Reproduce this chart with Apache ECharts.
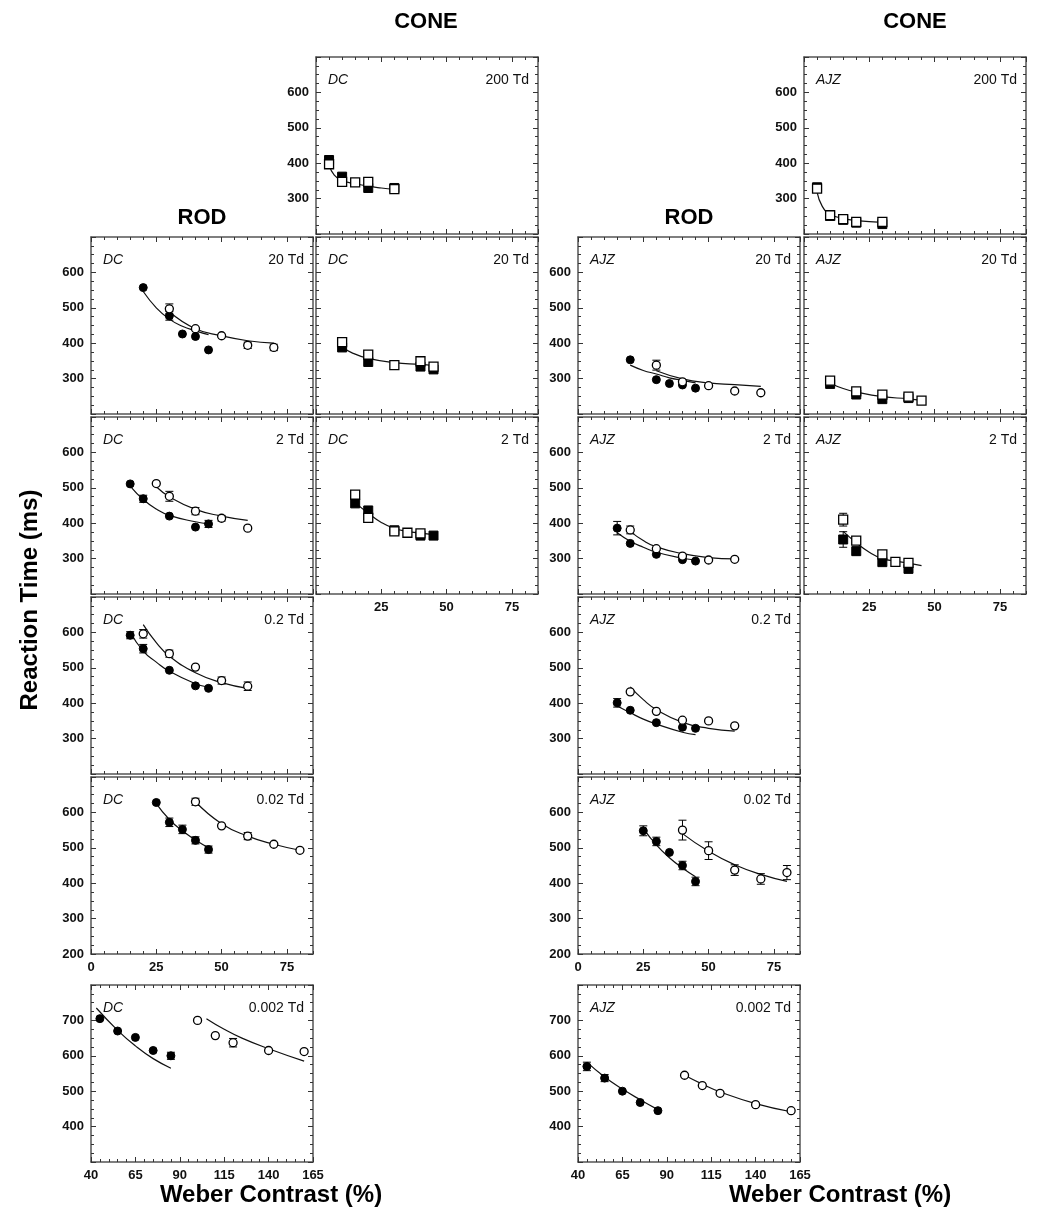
<!DOCTYPE html>
<html>
<head>
<meta charset="utf-8">
<script src="https://cdn.jsdelivr.net/npm/echarts@6/dist/echarts.min.js"></script>
<style>
  html, body { margin: 0; background: #fff; }
  #chart { width: 1050px; height: 1222px; }
</style>
</head>
<body>
<div id="chart"></div>
<script>
// ---- data: [weber contrast %, reaction time ms]; err: [x, y, sem] ----
// DC, cone, 200 Td
const dcCone200Filled = [[5, 409], [10, 362], [20, 330], [30, 330]];
const dcCone200Open = [[5, 397], [10, 347], [15, 346], [20, 347], [30, 327]];
const dcCone200Fit = [[5, 396], [7, 366], [10, 351], [15, 342], [20, 335], [25, 330], [30, 326]];
// AJZ, cone, 200 Td
const ajzCone200Filled = [[5, 332], [10, 251], [15, 240], [20, 232], [30, 228]];
const ajzCone200Open = [[5, 328], [10, 253], [15, 242], [20, 234], [30, 234]];
const ajzCone200Fit = [[5, 318], [7, 278], [10, 256], [15, 244], [20, 238], [30, 233]];

// DC, rod, 20 Td
const dcRod20Filled = [[20, 557], [30, 477], [35, 426], [40, 419], [45, 381]];
const dcRod20FilledErr = [[30, 477, 12]];
const dcRod20Open = [[30, 497], [40, 441], [50, 421], [60, 394], [70, 388]];
const dcRod20OpenErr = [[30, 497, 14], [60, 394, 9], [70, 388, 9]];
const dcRod20FilledFit = [[20, 546], [25, 500], [30, 468], [35, 448], [40, 435], [45, 424]];
const dcRod20OpenFit = [[30, 489], [40, 441], [50, 421], [60, 407], [70, 400]];
// DC, cone, 20 Td
const dcCone20Filled = [[10, 388], [20, 347], [40, 334], [45, 326]];
const dcCone20Open = [[10, 403], [20, 368], [30, 338], [40, 349], [45, 334]];
const dcCone20Fit = [[10, 390], [14, 372], [20, 357], [30, 345], [40, 340], [45, 337]];
// AJZ, rod, 20 Td
const ajzRod20Filled = [[20, 353], [30, 297], [35, 286], [40, 282], [45, 273]];
const ajzRod20Open = [[30, 338], [40, 291], [50, 280], [60, 265], [70, 260]];
const ajzRod20OpenErr = [[30, 338, 14]];
const ajzRod20FilledFit = [[20, 338], [25, 323], [30, 313], [35, 302], [40, 295], [45, 288]];
const ajzRod20OpenFit = [[30, 322], [40, 299], [50, 288], [60, 283], [70, 278]];
// AJZ, cone, 20 Td
const ajzCone20Filled = [[10, 285], [20, 255], [30, 242], [40, 245]];
const ajzCone20Open = [[10, 294], [20, 264], [30, 255], [40, 249], [45, 238]];
const ajzCone20Fit = [[10, 287], [15, 272], [20, 262], [30, 249], [40, 243], [45, 239]];

// DC, rod, 2 Td
const dcRod2Filled = [[15, 511], [20, 469], [30, 420], [40, 389], [45, 398]];
const dcRod2FilledErr = [[20, 469, 10], [45, 398, 10]];
const dcRod2Open = [[25, 512], [30, 476], [40, 434], [50, 414], [60, 386]];
const dcRod2OpenErr = [[30, 476, 14], [40, 434, 10], [50, 414, 8]];
const dcRod2FilledFit = [[15, 505], [20, 467], [25, 440], [30, 422], [40, 404], [45, 398]];
const dcRod2OpenFit = [[25, 503], [30, 475], [40, 439], [50, 420], [60, 408]];
// DC, cone, 2 Td
const dcCone2Filled = [[15, 456], [20, 436], [30, 380], [40, 365], [45, 365]];
const dcCone2Open = [[15, 481], [20, 415], [30, 377], [35, 373], [40, 371]];
const dcCone2Fit = [[15, 458], [20, 428], [25, 402], [30, 385], [35, 377], [40, 372], [45, 368]];
// AJZ, rod, 2 Td
const ajzRod2Filled = [[15, 386], [20, 343], [30, 312], [40, 297], [45, 293]];
const ajzRod2FilledErr = [[15, 386, 19]];
const ajzRod2Open = [[20, 381], [30, 328], [40, 307], [50, 296], [60, 298]];
const ajzRod2OpenErr = [[20, 381, 11]];
const ajzRod2FilledFit = [[15, 373], [20, 349], [25, 332], [30, 318], [40, 301], [45, 296]];
const ajzRod2OpenFit = [[20, 377], [25, 351], [30, 333], [40, 314], [50, 303], [60, 299]];
// AJZ, cone, 2 Td
const ajzCone2Filled = [[15, 354], [20, 321], [30, 290], [40, 271]];
const ajzCone2FilledErr = [[15, 354, 22], [20, 321, 11]];
const ajzCone2Open = [[15, 410], [20, 351], [30, 312], [35, 291], [40, 288]];
const ajzCone2OpenErr = [[15, 410, 18]];
const ajzCone2Fit = [[15, 377], [20, 345], [25, 318], [30, 300], [35, 293], [40, 287], [45, 280]];

// DC, rod, 0.2 Td
const dcRod02Filled = [[15, 592], [20, 554], [30, 493], [40, 449], [45, 442]];
const dcRod02FilledErr = [[15, 592, 10], [20, 554, 12]];
const dcRod02Open = [[20, 596], [30, 540], [40, 502], [50, 464], [60, 448]];
const dcRod02OpenErr = [[20, 596, 12], [30, 540, 10], [50, 464, 10], [60, 448, 12]];
const dcRod02FilledFit = [[15, 601], [20, 547], [25, 516], [30, 490], [40, 455], [45, 445]];
const dcRod02OpenFit = [[20, 622], [25, 571], [30, 533], [40, 486], [50, 458], [60, 442]];
// AJZ, rod, 0.2 Td
const ajzRod02Filled = [[15, 401], [20, 380], [30, 345], [40, 332], [45, 329]];
const ajzRod02FilledErr = [[15, 401, 12]];
const ajzRod02Open = [[20, 432], [30, 377], [40, 352], [50, 350], [60, 336]];
const ajzRod02FilledFit = [[15, 392], [20, 373], [25, 355], [30, 341], [40, 318], [45, 311]];
const ajzRod02OpenFit = [[20, 446], [25, 410], [30, 382], [40, 346], [50, 329], [60, 321]];

// DC, rod, 0.02 Td
const dcRod002Filled = [[25, 628], [30, 572], [35, 552], [40, 521], [45, 495]];
const dcRod002FilledErr = [[30, 572, 12], [35, 552, 12], [40, 521, 10], [45, 495, 10]];
const dcRod002Open = [[40, 630], [50, 562], [60, 533], [70, 510], [80, 493]];
const dcRod002OpenErr = [[40, 630, 10], [60, 533, 10]];
const dcRod002FilledFit = [[25, 625], [30, 580], [35, 548], [40, 522], [45, 500]];
const dcRod002OpenFit = [[40, 630], [50, 568], [60, 533], [70, 510], [80, 493]];
// AJZ, rod, 0.02 Td
const ajzRod002Filled = [[25, 548], [30, 518], [35, 487], [40, 450], [45, 405]];
const ajzRod002FilledErr = [[25, 548, 14], [30, 518, 12], [40, 450, 12], [45, 405, 12]];
const ajzRod002Open = [[40, 550], [50, 492], [60, 437], [70, 412], [80, 430]];
const ajzRod002OpenErr = [[40, 550, 28], [50, 492, 25], [60, 437, 15], [70, 412, 15], [80, 430, 20]];
const ajzRod002FilledFit = [[25, 555], [30, 508], [35, 472], [40, 443], [45, 418]];
const ajzRod002OpenFit = [[40, 540], [50, 490], [60, 452], [70, 425], [80, 405]];

// DC, rod, 0.002 Td
const dcRod0002Filled = [[45, 705], [55, 670], [65, 652], [75, 615], [85, 600]];
const dcRod0002FilledErr = [[85, 600, 10]];
const dcRod0002Open = [[100, 700], [110, 657], [120, 637], [140, 615], [160, 612]];
const dcRod0002OpenErr = [[120, 637, 12]];
const dcRod0002FilledFit = [[43, 735], [55, 672], [65, 628], [75, 592], [85, 565]];
const dcRod0002OpenFit = [[105, 705], [115, 675], [125, 650], [140, 620], [160, 585]];
// AJZ, rod, 0.002 Td
const ajzRod0002Filled = [[45, 570], [55, 537], [65, 500], [75, 468], [85, 445]];
const ajzRod0002FilledErr = [[45, 570, 12], [55, 537, 10]];
const ajzRod0002Open = [[100, 545], [110, 516], [120, 494], [140, 462], [160, 445]];
const ajzRod0002FilledFit = [[45, 582], [55, 540], [65, 506], [75, 476], [85, 448]];
const ajzRod0002OpenFit = [[100, 545], [110, 520], [120, 498], [140, 465], [160, 442]];

// ---- layout ----
const COL = { dcRod: 91, dcCone: 316, ajzRod: 578, ajzCone: 804 };
const ROW = { r200: 57, r20: 237, r2: 417, r02: 597, r002: 777, r0002: 985 };
const W = 222, H = 177;
const FONT = "'Liberation Sans', Arial, Helvetica, sans-serif";

const panels = [
  { who: 'DC', td: '200 Td', left: COL.dcCone, top: ROW.r200, shape: 'rect', yLab: 'std',
    filled: dcCone200Filled, open: dcCone200Open, fits: [dcCone200Fit] },
  { who: 'AJZ', td: '200 Td', left: COL.ajzCone, top: ROW.r200, shape: 'rect', yLab: 'std',
    filled: ajzCone200Filled, open: ajzCone200Open, fits: [ajzCone200Fit] },

  { who: 'DC', td: '20 Td', left: COL.dcRod, top: ROW.r20, shape: 'circle', yLab: 'std',
    filled: dcRod20Filled, open: dcRod20Open, filledErr: dcRod20FilledErr, openErr: dcRod20OpenErr,
    fits: [dcRod20FilledFit, dcRod20OpenFit] },
  { who: 'DC', td: '20 Td', left: COL.dcCone, top: ROW.r20, shape: 'rect',
    filled: dcCone20Filled, open: dcCone20Open, fits: [dcCone20Fit] },
  { who: 'AJZ', td: '20 Td', left: COL.ajzRod, top: ROW.r20, shape: 'circle', yLab: 'std',
    filled: ajzRod20Filled, open: ajzRod20Open, openErr: ajzRod20OpenErr,
    fits: [ajzRod20FilledFit, ajzRod20OpenFit] },
  { who: 'AJZ', td: '20 Td', left: COL.ajzCone, top: ROW.r20, shape: 'rect',
    filled: ajzCone20Filled, open: ajzCone20Open, fits: [ajzCone20Fit] },

  { who: 'DC', td: '2 Td', left: COL.dcRod, top: ROW.r2, shape: 'circle', yLab: 'std',
    filled: dcRod2Filled, open: dcRod2Open, filledErr: dcRod2FilledErr, openErr: dcRod2OpenErr,
    fits: [dcRod2FilledFit, dcRod2OpenFit] },
  { who: 'DC', td: '2 Td', left: COL.dcCone, top: ROW.r2, shape: 'rect', xLab: 'noMin',
    filled: dcCone2Filled, open: dcCone2Open, fits: [dcCone2Fit] },
  { who: 'AJZ', td: '2 Td', left: COL.ajzRod, top: ROW.r2, shape: 'circle', yLab: 'std',
    filled: ajzRod2Filled, open: ajzRod2Open, filledErr: ajzRod2FilledErr, openErr: ajzRod2OpenErr,
    fits: [ajzRod2FilledFit, ajzRod2OpenFit] },
  { who: 'AJZ', td: '2 Td', left: COL.ajzCone, top: ROW.r2, shape: 'rect', xLab: 'noMin',
    filled: ajzCone2Filled, open: ajzCone2Open, filledErr: ajzCone2FilledErr, openErr: ajzCone2OpenErr,
    fits: [ajzCone2Fit] },

  { who: 'DC', td: '0.2 Td', left: COL.dcRod, top: ROW.r02, shape: 'circle', yLab: 'std',
    filled: dcRod02Filled, open: dcRod02Open, filledErr: dcRod02FilledErr, openErr: dcRod02OpenErr,
    fits: [dcRod02FilledFit, dcRod02OpenFit] },
  { who: 'AJZ', td: '0.2 Td', left: COL.ajzRod, top: ROW.r02, shape: 'circle', yLab: 'std',
    filled: ajzRod02Filled, open: ajzRod02Open, filledErr: ajzRod02FilledErr,
    fits: [ajzRod02FilledFit, ajzRod02OpenFit] },

  { who: 'DC', td: '0.02 Td', left: COL.dcRod, top: ROW.r002, shape: 'circle', yLab: 'withMin', xLab: 'all',
    filled: dcRod002Filled, open: dcRod002Open, filledErr: dcRod002FilledErr, openErr: dcRod002OpenErr,
    fits: [dcRod002FilledFit, dcRod002OpenFit] },
  { who: 'AJZ', td: '0.02 Td', left: COL.ajzRod, top: ROW.r002, shape: 'circle', yLab: 'withMin', xLab: 'all',
    filled: ajzRod002Filled, open: ajzRod002Open, filledErr: ajzRod002FilledErr, openErr: ajzRod002OpenErr,
    fits: [ajzRod002FilledFit, ajzRod002OpenFit] },

  { who: 'DC', td: '0.002 Td', left: COL.dcRod, top: ROW.r0002, shape: 'circle', yLab: 'std', xLab: 'all', wide: true,
    filled: dcRod0002Filled, open: dcRod0002Open, filledErr: dcRod0002FilledErr, openErr: dcRod0002OpenErr,
    fits: [dcRod0002FilledFit, dcRod0002OpenFit] },
  { who: 'AJZ', td: '0.002 Td', left: COL.ajzRod, top: ROW.r0002, shape: 'circle', yLab: 'std', xLab: 'all', wide: true,
    filled: ajzRod0002Filled, open: ajzRod0002Open, filledErr: ajzRod0002FilledErr,
    fits: [ajzRod0002FilledFit, ajzRod0002OpenFit] }
];

// axis lines stay on their own edge (no snapping to zero)
const BORDER = { show: true, onZero: false, lineStyle: { color: '#555', width: 1.5 } };
const TICK_STYLE = { color: '#333', width: 1 };
const LABEL = { color: '#111', fontFamily: FONT, fontWeight: 'bold', fontSize: 13 };
const MAJOR = { show: true, inside: true, length: 5, lineStyle: TICK_STYLE };
const MINOR_LEN = 3;

const grids = [], xAxes = [], yAxes = [], series = [], graphics = [];

function errRender(params, api) {
  const x = api.value(0), y = api.value(1), e = api.value(2);
  const lo = api.coord([x, y - e]);
  const hi = api.coord([x, y + e]);
  const c = 4;
  const st = { stroke: '#000', lineWidth: 1 };
  return {
    type: 'group',
    children: [
      { type: 'line', shape: { x1: lo[0], y1: lo[1], x2: hi[0], y2: hi[1] }, style: st },
      { type: 'line', shape: { x1: lo[0] - c, y1: lo[1], x2: lo[0] + c, y2: lo[1] }, style: st },
      { type: 'line', shape: { x1: hi[0] - c, y1: hi[1], x2: hi[0] + c, y2: hi[1] }, style: st }
    ]
  };
}

panels.forEach((p, gi) => {
  grids.push({ left: p.left, top: p.top, width: W, height: H, containLabel: false });
  const xr = p.wide ? { min: 40, max: 165, interval: 25 } : { min: 0, max: 85, interval: 25 };
  const yr = p.wide ? { min: 300, max: 800, interval: 100 } : { min: 200, max: 700, interval: 100 };

  // x axes: bottom major (labels), top major, plus minor-tick axes for 0-85 range
  const xi = xAxes.length;
  xAxes.push({
    gridIndex: gi, type: 'value', position: 'bottom', ...xr,
    axisLine: BORDER, splitLine: { show: false },
    axisTick: MAJOR,
    minorTick: { show: !!p.wide, splitNumber: 5, length: MINOR_LEN, lineStyle: TICK_STYLE },
    axisLabel: {
      show: !!p.xLab, ...LABEL, margin: 7,
      showMinLabel: p.xLab === 'all', showMaxLabel: !!p.wide,
      formatter: v => (p.wide || v % 25 === 0) ? String(v) : ''
    }
  });
  xAxes.push({
    gridIndex: gi, type: 'value', position: 'top', ...xr,
    axisLine: BORDER, splitLine: { show: false },
    axisTick: MAJOR,
    minorTick: { show: !!p.wide, splitNumber: 5, length: MINOR_LEN, lineStyle: TICK_STYLE },
    axisLabel: { show: false }
  });
  if (!p.wide) {
    ['bottom', 'top'].forEach(pos => {
      xAxes.push({
        gridIndex: gi, type: 'value', position: pos, min: 0, max: 85, interval: 5,
        axisLine: { show: false, onZero: false }, splitLine: { show: false },
        axisTick: { show: true, inside: true, length: MINOR_LEN, lineStyle: TICK_STYLE },
        axisLabel: { show: false }
      });
    });
  }

  const yi = yAxes.length;
  yAxes.push({
    gridIndex: gi, type: 'value', position: 'left', ...yr,
    axisLine: BORDER, splitLine: { show: false },
    axisTick: MAJOR,
    minorTick: { show: true, splitNumber: 4, length: MINOR_LEN, lineStyle: TICK_STYLE },
    axisLabel: {
      show: !!p.yLab, ...LABEL, margin: 7,
      showMinLabel: p.yLab === 'withMin', showMaxLabel: false
    }
  });
  yAxes.push({
    gridIndex: gi, type: 'value', position: 'right', ...yr,
    axisLine: BORDER, splitLine: { show: false },
    axisTick: MAJOR,
    minorTick: { show: true, splitNumber: 4, length: MINOR_LEN, lineStyle: TICK_STYLE },
    axisLabel: { show: false }
  });

  const ax = { xAxisIndex: xi, yAxisIndex: yi };

  p.fits.forEach(f => {
    series.push({
      type: 'line', ...ax, data: f, smooth: 0.5, showSymbol: false, silent: true,
      lineStyle: { color: '#111', width: 1.2 }, z: 2
    });
  });
  [p.filledErr, p.openErr].forEach(e => {
    if (!e) return;
    series.push({ type: 'custom', ...ax, data: e, renderItem: errRender, encode: { x: 0, y: 1 }, silent: true, z: 3 });
  });
  const size = p.shape === 'rect' ? 9 : 8;
  series.push({
    type: 'scatter', ...ax, data: p.filled, symbol: p.shape, symbolSize: size, silent: true,
    itemStyle: { color: '#000', borderColor: '#000', borderWidth: 1, opacity: 1 }, z: 4
  });
  series.push({
    type: 'scatter', ...ax, data: p.open, symbol: p.shape, symbolSize: size, silent: true,
    itemStyle: { color: '#fff', borderColor: '#000', borderWidth: 1.3, opacity: 1 }, z: 5
  });

  graphics.push({
    type: 'text', x: p.left + 12, y: p.top + 23, z: 10,
    style: { text: p.who, font: `italic 14px ${FONT}`, fill: '#111', textAlign: 'left', textVerticalAlign: 'middle' }
  });
  graphics.push({
    type: 'text', x: p.left + W - 9, y: p.top + 23, z: 10,
    style: { text: p.td, font: `14px ${FONT}`, fill: '#111', textAlign: 'right', textVerticalAlign: 'middle' }
  });
});

const titleFont = `bold 22px ${FONT}`;
const axisTitleFont = `bold 24px ${FONT}`;
[
  { text: 'CONE', x: 426, y: 22, font: titleFont },
  { text: 'CONE', x: 915, y: 22, font: titleFont },
  { text: 'ROD', x: 202, y: 218, font: titleFont },
  { text: 'ROD', x: 689, y: 218, font: titleFont },
  { text: 'Weber Contrast (%)', x: 271, y: 1195, font: axisTitleFont },
  { text: 'Weber Contrast (%)', x: 840, y: 1195, font: axisTitleFont }
].forEach(t => graphics.push({
  type: 'text', x: t.x, y: t.y,
  style: { text: t.text, font: t.font, fill: '#000', textAlign: 'center', textVerticalAlign: 'middle' }
}));
graphics.push({
  type: 'text', x: 30, y: 600, rotation: Math.PI / 2,
  style: { text: 'Reaction Time (ms)', font: axisTitleFont, fill: '#000', textAlign: 'center', textVerticalAlign: 'middle' }
});

const chart = echarts.init(document.getElementById('chart'));
chart.setOption({
  backgroundColor: '#fff',
  animation: false,
  grid: grids,
  xAxis: xAxes,
  yAxis: yAxes,
  series: series,
  graphic: graphics
});
</script>
</body>
</html>
